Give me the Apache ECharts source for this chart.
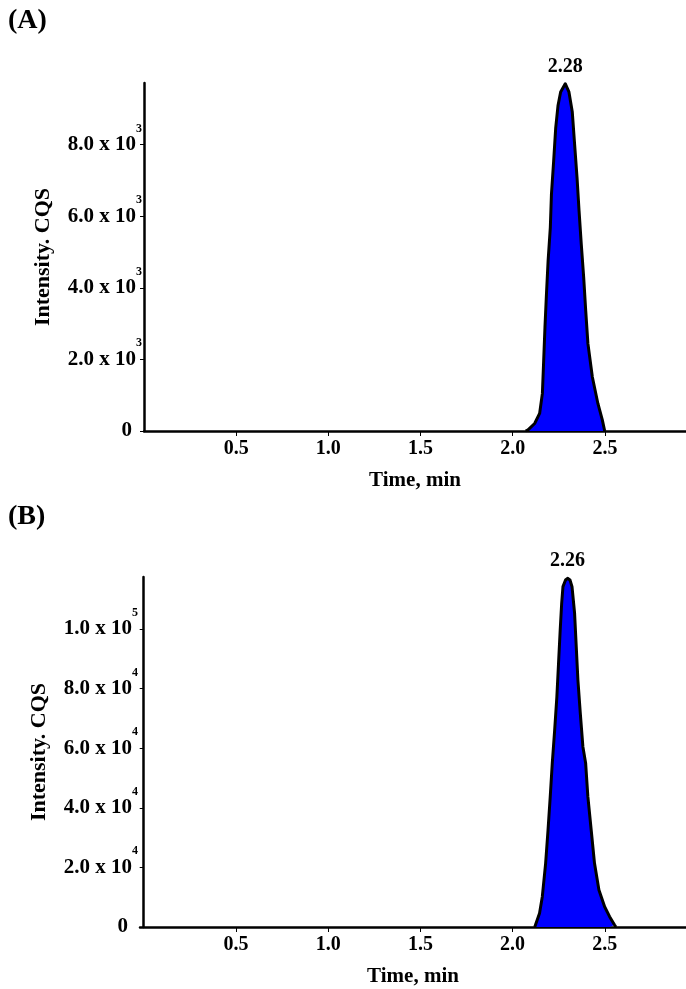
<!DOCTYPE html>
<html>
<head>
<meta charset="utf-8">
<script src="https://cdn.jsdelivr.net/npm/echarts@6/dist/echarts.min.js"></script>
<style>
html,body{margin:0;padding:0;background:#fff;}
#chart{width:686px;height:989px;}
</style>
</head>
<body>
<div id="chart"></div>
<script>
// ---------- Data ----------
const panelTitles = ['(A)', '(B)'];
const xAxisName = 'Time, min';
const yAxisName = 'Intensity. CQS';
const xTickValues = [0.5, 1.0, 1.5, 2.0, 2.5];

// Panel A chromatogram (peak region; baseline elsewhere is 0)
const timeA = [2.07, 2.083, 2.119, 2.146, 2.161, 2.168, 2.175, 2.183, 2.192, 2.204, 2.210, 2.222, 2.233, 2.246, 2.260, 2.285, 2.305, 2.323, 2.336, 2.349, 2.360, 2.372, 2.385, 2.396, 2.408, 2.432, 2.462, 2.486, 2.499];
const intensityA = [0, 30, 210, 490, 1050, 1970, 2900, 3820, 4750, 5680, 6600, 7530, 8450, 9100, 9470, 9700, 9470, 8920, 7990, 7070, 6140, 5210, 4290, 3360, 2440, 1510, 770, 310, 0];
const peakLabelA = '2.28';
const yTickValuesA = [0, 2000, 4000, 6000, 8000];
const yTickTextA = ['0', '2.0 x 10', '4.0 x 10', '6.0 x 10', '8.0 x 10'];
const yTickExpA = ['', '3', '3', '3', '3'];

// Panel B chromatogram (peak region; baseline elsewhere is 0)
const timeB = [2.12, 2.128, 2.146, 2.161, 2.179, 2.192, 2.204, 2.215, 2.228, 2.240, 2.249, 2.258, 2.266, 2.273, 2.287, 2.298, 2.311, 2.322, 2.336, 2.345, 2.354, 2.367, 2.381, 2.396, 2.408, 2.426, 2.444, 2.468, 2.499, 2.526, 2.553, 2.56];
const intensityB = [0, 670, 4590, 10180, 21370, 32550, 43730, 54930, 66110, 77290, 88500, 99670, 108630, 114220, 116450, 117020, 116450, 114220, 105280, 94070, 82890, 71720, 60510, 54930, 43730, 32550, 21370, 12420, 6810, 3460, 670, 0];
const peakLabelB = '2.26';
const yTickValuesB = [0, 20000, 40000, 60000, 80000, 100000];
const yTickTextB = ['0', '2.0 x 10', '4.0 x 10', '6.0 x 10', '8.0 x 10', '1.0 x 10'];
const yTickExpB = ['', '4', '4', '4', '4', '5'];

// Axis ranges
const xRangeA = [0, 2.94];
const xRangeB = [-0.02, 2.94];
const yMaxA = 9720;
const yMaxB = 117450;

// ---------- Build ----------
const FONT = 'Liberation Serif';
function pairs(t, v) { return t.map((x, i) => [x, v[i]]); }
function peakOf(t, v) {
  let k = 0; v.forEach((y, i) => { if (y > v[k]) k = i; });
  return [t[k], v[k]];
}
function yFormatter(vals, texts, exps) {
  return function (val) {
    const i = vals.findIndex(x => Math.abs(x - val) < 1e-6);
    if (i < 0) return '';
    if (!exps[i]) return '{z|' + texts[i] + '}';
    return '{b|' + texts[i] + '}{s|' + exps[i] + '}';
  };
}
const richY = {
  b: { fontFamily: FONT, fontWeight: 'bold', fontSize: 21, color: '#000', lineHeight: 44 },
  s: { fontFamily: FONT, fontWeight: 'bold', fontSize: 12, color: '#000', lineHeight: 12, verticalAlign: 'top' },
  z: { fontFamily: FONT, fontWeight: 'bold', fontSize: 21, color: '#000', lineHeight: 44, padding: [0, 10, 0, 0] }
};

function makeX(idx, range) {
  return {
    type: 'value', gridIndex: idx, min: range[0], max: range[1],
    name: xAxisName, nameLocation: 'middle', nameGap: 39,
    nameTextStyle: { fontFamily: FONT, fontWeight: 'bold', fontSize: 21, color: '#000' },
    axisLine: { show: true, onZero: false, lineStyle: { color: '#000', width: 2.5 } },
    axisTick: { show: true, inside: false, length: 5, lineStyle: { color: '#000', width: 1 }, customValues: xTickValues },
    axisLabel: { show: true, margin: 8, fontFamily: FONT, fontWeight: 'bold', fontSize: 20, color: '#000',
      customValues: xTickValues, formatter: v => v.toFixed(1) },
    splitLine: { show: false }
  };
}
function makeY(idx, max, vals, texts, exps) {
  return {
    type: 'value', gridIndex: idx, min: 0, max: max,
    name: yAxisName, nameLocation: 'middle', nameGap: 90,
    nameTextStyle: { fontFamily: FONT, fontWeight: 'bold', fontSize: 22, color: '#000' },
    axisLine: { show: true, lineStyle: { color: '#000', width: 2.5 } },
    axisTick: { show: true, length: 4, lineStyle: { color: '#000', width: 1 }, customValues: vals },
    axisLabel: { show: true, margin: 2, customValues: vals, formatter: yFormatter(vals, texts, exps), rich: richY },
    splitLine: { show: false }
  };
}
function makeSeries(idx, t, v, label) {
  const pk = peakOf(t, v);
  return {
    type: 'line', xAxisIndex: idx, yAxisIndex: idx,
    data: pairs(t, v), showSymbol: false, smooth: false,
    lineStyle: { color: '#000', width: 3, join: 'round' },
    areaStyle: { color: '#0000ff', opacity: 1 },
    markPoint: {
      symbol: 'circle', symbolSize: 0,
      data: [{ coord: pk, value: label }],
      label: { show: true, position: 'top', distance: 7, formatter: '{c}',
        fontFamily: FONT, fontWeight: 'bold', fontSize: 20, color: '#000' }
    },
    animation: false
  };
}

const chart = echarts.init(document.getElementById('chart'), null, { renderer: 'canvas' });
chart.setOption({
  animation: false,
  backgroundColor: '#fff',
  title: [
    { text: panelTitles[0], left: 3, top: 2, textStyle: { fontFamily: FONT, fontWeight: 'bold', fontSize: 28, color: '#000' } },
    { text: panelTitles[1], left: 3, top: 498, textStyle: { fontFamily: FONT, fontWeight: 'bold', fontSize: 28, color: '#000' } }
  ],
  grid: [
    { left: 144, right: 0, top: 83, bottom: 558 },
    { left: 140, right: 0, top: 577, bottom: 62 }
  ],
  xAxis: [makeX(0, xRangeA), makeX(1, xRangeB)],
  yAxis: [makeY(0, yMaxA, yTickValuesA, yTickTextA, yTickExpA), makeY(1, yMaxB, yTickValuesB, yTickTextB, yTickExpB)],
  series: [makeSeries(0, timeA, intensityA, peakLabelA), makeSeries(1, timeB, intensityB, peakLabelB)]
});
</script>
</body>
</html>
